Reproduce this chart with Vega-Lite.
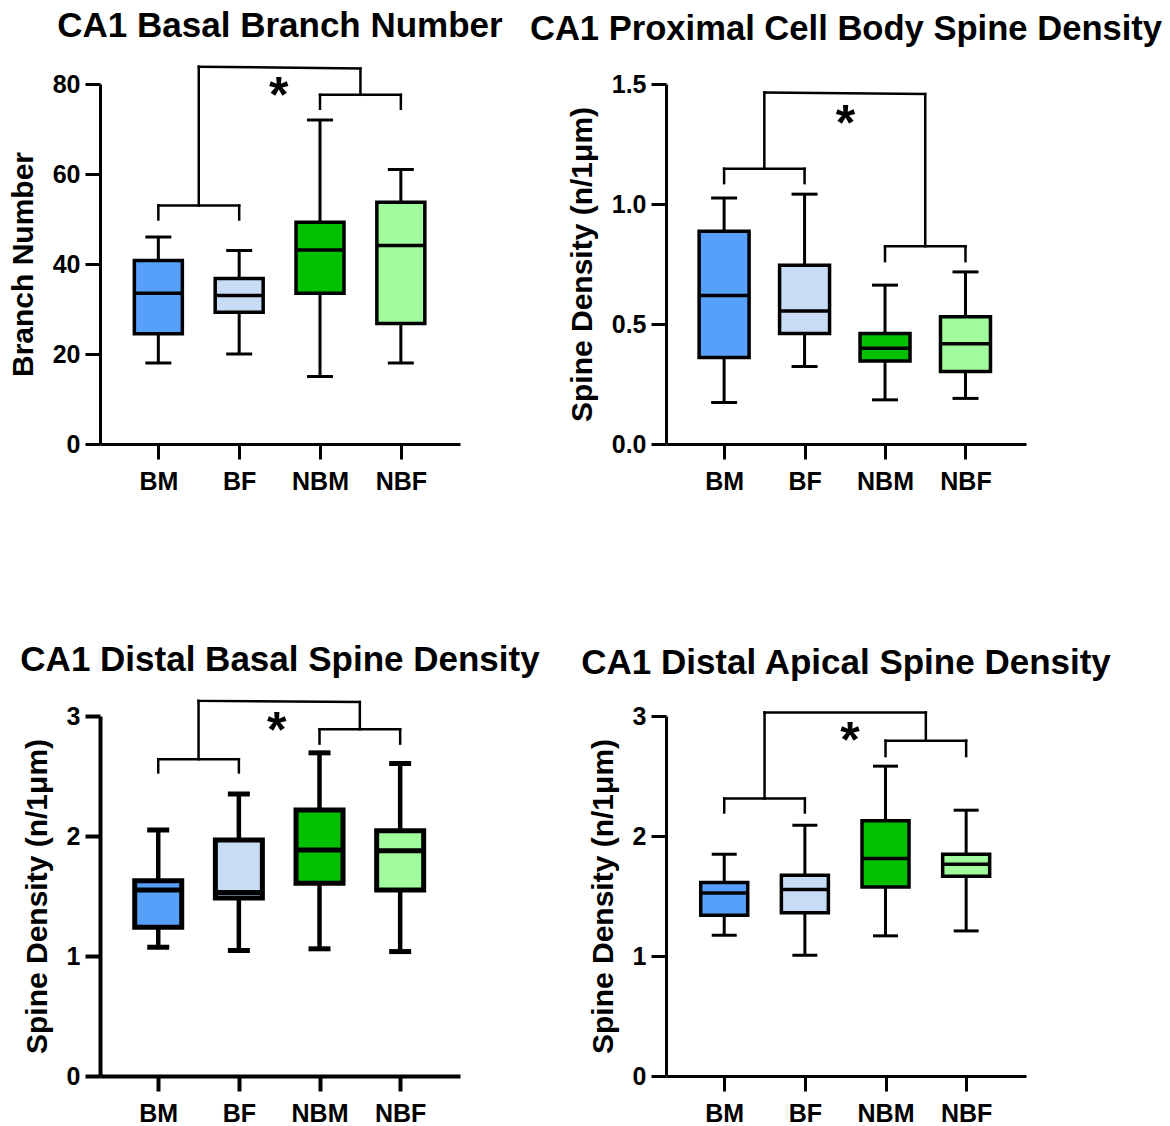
{
  "$schema": "https://vega.github.io/schema/vega-lite/v6.json",
  "padding": {"left": 8, "top": 8, "right": 5, "bottom": 5},
  "config": {
    "font": "Liberation Sans",
    "view": {"stroke": null},
    "axis": {"grid": false, "domainColor": "black", "domainWidth": 3, "tickColor": "black", "tickWidth": 3, "tickSize": 15, "labelFontSize": 25, "labelFontWeight": "bold", "labelColor": "black", "titleFontSize": 30, "titleFontWeight": "bold", "titleColor": "black", "labelFont": "Liberation Sans", "titleFont": "Liberation Sans", "labelFlush": false, "labelOverlap": false},
    "axisY": {"labelPadding": 5, "titlePadding": 14},
    "axisX": {"labelPadding": 10},
    "title": {"fontSize": 35, "fontWeight": "bold", "color": "black", "anchor": "middle", "font": "Liberation Sans"}
  },
  "datasets": {
    "boxes": [
      {"panel": 1, "group": "BM", "pos": 1, "min": 18, "q1": 24.5, "median": 33.5, "q3": 40.8, "max": 46},
      {"panel": 1, "group": "BF", "pos": 2, "min": 20, "q1": 29.3, "median": 33, "q3": 36.8, "max": 43},
      {"panel": 1, "group": "NBM", "pos": 3, "min": 15, "q1": 33.5, "median": 43.1, "q3": 49.3, "max": 72},
      {"panel": 1, "group": "NBF", "pos": 4, "min": 18, "q1": 26.8, "median": 44.1, "q3": 53.7, "max": 61},
      {"panel": 2, "group": "BM", "pos": 1, "min": 0.173, "q1": 0.36, "median": 0.619, "q3": 0.886, "max": 1.025},
      {"panel": 2, "group": "BF", "pos": 2, "min": 0.323, "q1": 0.46, "median": 0.554, "q3": 0.745, "max": 1.041},
      {"panel": 2, "group": "NBM", "pos": 3, "min": 0.184, "q1": 0.346, "median": 0.399, "q3": 0.46, "max": 0.662},
      {"panel": 2, "group": "NBF", "pos": 4, "min": 0.19, "q1": 0.302, "median": 0.418, "q3": 0.53, "max": 0.717},
      {"panel": 3, "group": "BM", "pos": 1, "min": 1.073, "q1": 1.24, "median": 1.55, "q3": 1.628, "max": 2.05},
      {"panel": 3, "group": "BF", "pos": 2, "min": 1.046, "q1": 1.484, "median": 1.53, "q3": 1.967, "max": 2.35},
      {"panel": 3, "group": "NBM", "pos": 3, "min": 1.06, "q1": 1.606, "median": 1.883, "q3": 2.216, "max": 2.693},
      {"panel": 3, "group": "NBF", "pos": 4, "min": 1.037, "q1": 1.551, "median": 1.878, "q3": 2.044, "max": 2.604},
      {"panel": 4, "group": "BM", "pos": 1, "min": 1.173, "q1": 1.34, "median": 1.526, "q3": 1.612, "max": 1.848},
      {"panel": 4, "group": "BF", "pos": 2, "min": 1.006, "q1": 1.36, "median": 1.554, "q3": 1.673, "max": 2.09},
      {"panel": 4, "group": "NBM", "pos": 3, "min": 1.168, "q1": 1.576, "median": 1.812, "q3": 2.127, "max": 2.582},
      {"panel": 4, "group": "NBF", "pos": 4, "min": 1.209, "q1": 1.665, "median": 1.765, "q3": 1.848, "max": 2.215}
    ],
    "brackets": [
      {"panel": 1, "x": 1, "x2": 2, "y": 53, "y2": 53},
      {"panel": 1, "x": 1, "x2": 1, "y": 53, "y2": 49.9},
      {"panel": 1, "x": 2, "x2": 2, "y": 53, "y2": 49.9},
      {"panel": 1, "x": 1.5, "x2": 1.5, "y": 53, "y2": 83.85},
      {"panel": 1, "x": 1.5, "x2": 3.5, "y": 83.85, "y2": 83.47},
      {"panel": 1, "x": 3.5, "x2": 3.5, "y": 83.47, "y2": 77.6},
      {"panel": 1, "x": 3, "x2": 4, "y": 77.6, "y2": 77.6},
      {"panel": 1, "x": 3, "x2": 3, "y": 77.6, "y2": 74.5},
      {"panel": 1, "x": 4, "x2": 4, "y": 77.6, "y2": 74.5},
      {"panel": 2, "x": 1, "x2": 2, "y": 1.147, "y2": 1.147},
      {"panel": 2, "x": 1, "x2": 1, "y": 1.147, "y2": 1.087},
      {"panel": 2, "x": 2, "x2": 2, "y": 1.147, "y2": 1.087},
      {"panel": 2, "x": 1.5, "x2": 1.5, "y": 1.147, "y2": 1.465},
      {"panel": 2, "x": 1.5, "x2": 3.5, "y": 1.465, "y2": 1.458},
      {"panel": 2, "x": 3.5, "x2": 3.5, "y": 1.458, "y2": 0.824},
      {"panel": 2, "x": 3, "x2": 4, "y": 0.824, "y2": 0.824},
      {"panel": 2, "x": 3, "x2": 3, "y": 0.824, "y2": 0.762},
      {"panel": 2, "x": 4, "x2": 4, "y": 0.824, "y2": 0.762},
      {"panel": 3, "x": 1, "x2": 2, "y": 2.64, "y2": 2.64},
      {"panel": 3, "x": 1, "x2": 1, "y": 2.64, "y2": 2.53},
      {"panel": 3, "x": 2, "x2": 2, "y": 2.64, "y2": 2.53},
      {"panel": 3, "x": 1.5, "x2": 1.5, "y": 2.64, "y2": 3.126},
      {"panel": 3, "x": 1.5, "x2": 3.5, "y": 3.126, "y2": 3.117},
      {"panel": 3, "x": 3.5, "x2": 3.5, "y": 3.117, "y2": 2.89},
      {"panel": 3, "x": 3, "x2": 4, "y": 2.89, "y2": 2.89},
      {"panel": 3, "x": 3, "x2": 3, "y": 2.89, "y2": 2.77},
      {"panel": 3, "x": 4, "x2": 4, "y": 2.89, "y2": 2.77},
      {"panel": 4, "x": 1, "x2": 2, "y": 2.313, "y2": 2.313},
      {"panel": 4, "x": 1, "x2": 1, "y": 2.313, "y2": 2.196},
      {"panel": 4, "x": 2, "x2": 2, "y": 2.313, "y2": 2.196},
      {"panel": 4, "x": 1.5, "x2": 1.5, "y": 2.313, "y2": 3.03},
      {"panel": 4, "x": 1.5, "x2": 3.5, "y": 3.03, "y2": 3.03},
      {"panel": 4, "x": 3.5, "x2": 3.5, "y": 3.03, "y2": 2.794},
      {"panel": 4, "x": 3, "x2": 4, "y": 2.794, "y2": 2.794},
      {"panel": 4, "x": 3, "x2": 3, "y": 2.794, "y2": 2.666},
      {"panel": 4, "x": 4, "x2": 4, "y": 2.794, "y2": 2.666}
    ],
    "stars": [
      {"panel": 1, "x": 2.49, "y": 79.4, "label": "*"},
      {"panel": 2, "x": 2.51, "y": 1.371, "label": "*"},
      {"panel": 3, "x": 2.47, "y": 2.95, "label": "*"},
      {"panel": 4, "x": 2.56, "y": 2.87, "label": "*"}
    ]
  },
  "columns": 2,
  "bounds": "flush",
  "spacing": {"row": 272, "column": 206},
  "concat": [
    {
      "width": 360, "height": 360,
      "title": {"text": "CA1 Basal Branch Number", "offset": 21},
      "layer": [
        {"data": {"name": "boxes"}, "transform": [{"filter": "datum.panel == 1"}], "mark": {"type": "rule", "strokeWidth": 3, "color": "black"},
         "encoding": {"x": {"field": "pos", "type": "quantitative", "scale": {"domain": [0.34, 4.67], "nice": false, "zero": false}, "axis": {"values": [1, 2, 3, 4], "labelExpr": "['BM','BF','NBM','NBF'][datum.value-1]", "title": null}},
                      "y": {"field": "min", "type": "quantitative", "scale": {"domain": [0, 80], "nice": false}, "axis": {"values": [0, 20, 40, 60, 80], "format": "d", "title": "Branch Number"}}, "y2": {"field": "max"}}},
        {"data": {"name": "boxes"}, "transform": [{"filter": "datum.panel == 1"}], "mark": {"type": "bar", "width": 48, "stroke": "black", "strokeWidth": 3.5},
         "encoding": {"x": {"field": "pos", "type": "quantitative"}, "y": {"field": "q1", "type": "quantitative"}, "y2": {"field": "q3"},
                      "fill": {"field": "group", "type": "nominal", "scale": {"domain": ["BM", "BF", "NBM", "NBF"], "range": ["#56A0FA", "#C8DCF6", "#00C000", "#A0FC9C"]}, "legend": null}}},
        {"data": {"name": "boxes"}, "transform": [{"filter": "datum.panel == 1"}], "mark": {"type": "tick", "orient": "horizontal", "size": 48, "thickness": 3.5, "color": "black", "opacity": 1},
         "encoding": {"x": {"field": "pos", "type": "quantitative"}, "y": {"field": "median", "type": "quantitative"}}},
        {"data": {"name": "boxes"}, "transform": [{"filter": "datum.panel == 1"}], "mark": {"type": "tick", "orient": "horizontal", "size": 26, "thickness": 3, "color": "black", "opacity": 1},
         "encoding": {"x": {"field": "pos", "type": "quantitative"}, "y": {"field": "min", "type": "quantitative"}}},
        {"data": {"name": "boxes"}, "transform": [{"filter": "datum.panel == 1"}], "mark": {"type": "tick", "orient": "horizontal", "size": 26, "thickness": 3, "color": "black", "opacity": 1},
         "encoding": {"x": {"field": "pos", "type": "quantitative"}, "y": {"field": "max", "type": "quantitative"}}},
        {"data": {"name": "brackets"}, "transform": [{"filter": "datum.panel == 1"}], "mark": {"type": "rule", "strokeWidth": 2.5, "color": "black", "strokeCap": "square"},
         "encoding": {"x": {"field": "x", "type": "quantitative"}, "x2": {"field": "x2"}, "y": {"field": "y", "type": "quantitative"}, "y2": {"field": "y2"}}},
        {"data": {"name": "stars"}, "transform": [{"filter": "datum.panel == 1"}], "mark": {"type": "text", "fontSize": 50, "fontWeight": "bold", "baseline": "alphabetic", "dy": 25, "color": "black"},
         "encoding": {"x": {"field": "x", "type": "quantitative"}, "y": {"field": "y", "type": "quantitative"}, "text": {"field": "label"}}}
      ]
    },
    {
      "width": 360, "height": 360,
      "title": {"text": "CA1 Proximal Cell Body Spine Density", "offset": 24, "fontSize": 34.6},
      "layer": [
        {"data": {"name": "boxes"}, "transform": [{"filter": "datum.panel == 2"}], "mark": {"type": "rule", "strokeWidth": 3, "color": "black"},
         "encoding": {"x": {"field": "pos", "type": "quantitative", "scale": {"domain": [0.34, 4.69], "nice": false, "zero": false}, "axis": {"values": [1, 2, 3, 4], "labelExpr": "['BM','BF','NBM','NBF'][datum.value-1]", "title": null}},
                      "y": {"field": "min", "type": "quantitative", "scale": {"domain": [0, 1.5], "nice": false}, "axis": {"values": [0, 0.5, 1, 1.5], "format": ".1f", "title": "Spine Density (n/1μm)"}}, "y2": {"field": "max"}}},
        {"data": {"name": "boxes"}, "transform": [{"filter": "datum.panel == 2"}], "mark": {"type": "bar", "width": 50, "stroke": "black", "strokeWidth": 3.5},
         "encoding": {"x": {"field": "pos", "type": "quantitative"}, "y": {"field": "q1", "type": "quantitative"}, "y2": {"field": "q3"},
                      "fill": {"field": "group", "type": "nominal", "scale": {"domain": ["BM", "BF", "NBM", "NBF"], "range": ["#56A0FA", "#C8DCF6", "#00C000", "#A0FC9C"]}, "legend": null}}},
        {"data": {"name": "boxes"}, "transform": [{"filter": "datum.panel == 2"}], "mark": {"type": "tick", "orient": "horizontal", "size": 50, "thickness": 3.5, "color": "black", "opacity": 1},
         "encoding": {"x": {"field": "pos", "type": "quantitative"}, "y": {"field": "median", "type": "quantitative"}}},
        {"data": {"name": "boxes"}, "transform": [{"filter": "datum.panel == 2"}], "mark": {"type": "tick", "orient": "horizontal", "size": 26, "thickness": 3, "color": "black", "opacity": 1},
         "encoding": {"x": {"field": "pos", "type": "quantitative"}, "y": {"field": "min", "type": "quantitative"}}},
        {"data": {"name": "boxes"}, "transform": [{"filter": "datum.panel == 2"}], "mark": {"type": "tick", "orient": "horizontal", "size": 26, "thickness": 3, "color": "black", "opacity": 1},
         "encoding": {"x": {"field": "pos", "type": "quantitative"}, "y": {"field": "max", "type": "quantitative"}}},
        {"data": {"name": "brackets"}, "transform": [{"filter": "datum.panel == 2"}], "mark": {"type": "rule", "strokeWidth": 2.5, "color": "black", "strokeCap": "square"},
         "encoding": {"x": {"field": "x", "type": "quantitative"}, "x2": {"field": "x2"}, "y": {"field": "y", "type": "quantitative"}, "y2": {"field": "y2"}}},
        {"data": {"name": "stars"}, "transform": [{"filter": "datum.panel == 2"}], "mark": {"type": "text", "fontSize": 50, "fontWeight": "bold", "baseline": "alphabetic", "dy": 25, "color": "black"},
         "encoding": {"x": {"field": "x", "type": "quantitative"}, "y": {"field": "y", "type": "quantitative"}, "text": {"field": "label"}}}
      ]
    },
    {
      "width": 360, "height": 360,
      "title": {"text": "CA1 Distal Basal Spine Density", "offset": 21},
      "layer": [
        {"data": {"name": "boxes"}, "transform": [{"filter": "datum.panel == 3"}], "mark": {"type": "rule", "strokeWidth": 4.5, "color": "black"},
         "encoding": {"x": {"field": "pos", "type": "quantitative", "scale": {"domain": [0.34, 4.68], "nice": false, "zero": false}, "axis": {"values": [1, 2, 3, 4], "labelExpr": "['BM','BF','NBM','NBF'][datum.value-1]", "title": null, "domainWidth": 4, "tickWidth": 4}},
                      "y": {"field": "min", "type": "quantitative", "scale": {"domain": [0, 3], "nice": false}, "axis": {"values": [0, 1, 2, 3], "format": "d", "title": "Spine Density (n/1μm)", "domainWidth": 4, "tickWidth": 4}}, "y2": {"field": "max"}}},
        {"data": {"name": "boxes"}, "transform": [{"filter": "datum.panel == 3"}], "mark": {"type": "bar", "width": 47, "stroke": "black", "strokeWidth": 5},
         "encoding": {"x": {"field": "pos", "type": "quantitative"}, "y": {"field": "q1", "type": "quantitative"}, "y2": {"field": "q3"},
                      "fill": {"field": "group", "type": "nominal", "scale": {"domain": ["BM", "BF", "NBM", "NBF"], "range": ["#56A0FA", "#C8DCF6", "#00C000", "#A0FC9C"]}, "legend": null}}},
        {"data": {"name": "boxes"}, "transform": [{"filter": "datum.panel == 3"}], "mark": {"type": "tick", "orient": "horizontal", "size": 47, "thickness": 5, "color": "black", "opacity": 1},
         "encoding": {"x": {"field": "pos", "type": "quantitative"}, "y": {"field": "median", "type": "quantitative"}}},
        {"data": {"name": "boxes"}, "transform": [{"filter": "datum.panel == 3"}], "mark": {"type": "tick", "orient": "horizontal", "size": 22, "thickness": 5, "color": "black", "opacity": 1},
         "encoding": {"x": {"field": "pos", "type": "quantitative"}, "y": {"field": "min", "type": "quantitative"}}},
        {"data": {"name": "boxes"}, "transform": [{"filter": "datum.panel == 3"}], "mark": {"type": "tick", "orient": "horizontal", "size": 22, "thickness": 5, "color": "black", "opacity": 1},
         "encoding": {"x": {"field": "pos", "type": "quantitative"}, "y": {"field": "max", "type": "quantitative"}}},
        {"data": {"name": "brackets"}, "transform": [{"filter": "datum.panel == 3"}], "mark": {"type": "rule", "strokeWidth": 2.5, "color": "black", "strokeCap": "square"},
         "encoding": {"x": {"field": "x", "type": "quantitative"}, "x2": {"field": "x2"}, "y": {"field": "y", "type": "quantitative"}, "y2": {"field": "y2"}}},
        {"data": {"name": "stars"}, "transform": [{"filter": "datum.panel == 3"}], "mark": {"type": "text", "fontSize": 50, "fontWeight": "bold", "baseline": "alphabetic", "dy": 25, "color": "black"},
         "encoding": {"x": {"field": "x", "type": "quantitative"}, "y": {"field": "y", "type": "quantitative"}, "text": {"field": "label"}}}
      ]
    },
    {
      "width": 360, "height": 360,
      "title": {"text": "CA1 Distal Apical Spine Density", "offset": 23},
      "layer": [
        {"data": {"name": "boxes"}, "transform": [{"filter": "datum.panel == 4"}], "mark": {"type": "rule", "strokeWidth": 3, "color": "black"},
         "encoding": {"x": {"field": "pos", "type": "quantitative", "scale": {"domain": [0.34, 4.68], "nice": false, "zero": false}, "axis": {"values": [1, 2, 3, 4], "labelExpr": "['BM','BF','NBM','NBF'][datum.value-1]", "title": null}},
                      "y": {"field": "min", "type": "quantitative", "scale": {"domain": [0, 3], "nice": false}, "axis": {"values": [0, 1, 2, 3], "format": "d", "title": "Spine Density (n/1μm)"}}, "y2": {"field": "max"}}},
        {"data": {"name": "boxes"}, "transform": [{"filter": "datum.panel == 4"}], "mark": {"type": "bar", "width": 47, "stroke": "black", "strokeWidth": 3.5},
         "encoding": {"x": {"field": "pos", "type": "quantitative"}, "y": {"field": "q1", "type": "quantitative"}, "y2": {"field": "q3"},
                      "fill": {"field": "group", "type": "nominal", "scale": {"domain": ["BM", "BF", "NBM", "NBF"], "range": ["#56A0FA", "#C8DCF6", "#00C000", "#A0FC9C"]}, "legend": null}}},
        {"data": {"name": "boxes"}, "transform": [{"filter": "datum.panel == 4"}], "mark": {"type": "tick", "orient": "horizontal", "size": 47, "thickness": 3.5, "color": "black", "opacity": 1},
         "encoding": {"x": {"field": "pos", "type": "quantitative"}, "y": {"field": "median", "type": "quantitative"}}},
        {"data": {"name": "boxes"}, "transform": [{"filter": "datum.panel == 4"}], "mark": {"type": "tick", "orient": "horizontal", "size": 25, "thickness": 3, "color": "black", "opacity": 1},
         "encoding": {"x": {"field": "pos", "type": "quantitative"}, "y": {"field": "min", "type": "quantitative"}}},
        {"data": {"name": "boxes"}, "transform": [{"filter": "datum.panel == 4"}], "mark": {"type": "tick", "orient": "horizontal", "size": 25, "thickness": 3, "color": "black", "opacity": 1},
         "encoding": {"x": {"field": "pos", "type": "quantitative"}, "y": {"field": "max", "type": "quantitative"}}},
        {"data": {"name": "brackets"}, "transform": [{"filter": "datum.panel == 4"}], "mark": {"type": "rule", "strokeWidth": 2.5, "color": "black", "strokeCap": "square"},
         "encoding": {"x": {"field": "x", "type": "quantitative"}, "x2": {"field": "x2"}, "y": {"field": "y", "type": "quantitative"}, "y2": {"field": "y2"}}},
        {"data": {"name": "stars"}, "transform": [{"filter": "datum.panel == 4"}], "mark": {"type": "text", "fontSize": 50, "fontWeight": "bold", "baseline": "alphabetic", "dy": 25, "color": "black"},
         "encoding": {"x": {"field": "x", "type": "quantitative"}, "y": {"field": "y", "type": "quantitative"}, "text": {"field": "label"}}}
      ]
    }
  ]
}
